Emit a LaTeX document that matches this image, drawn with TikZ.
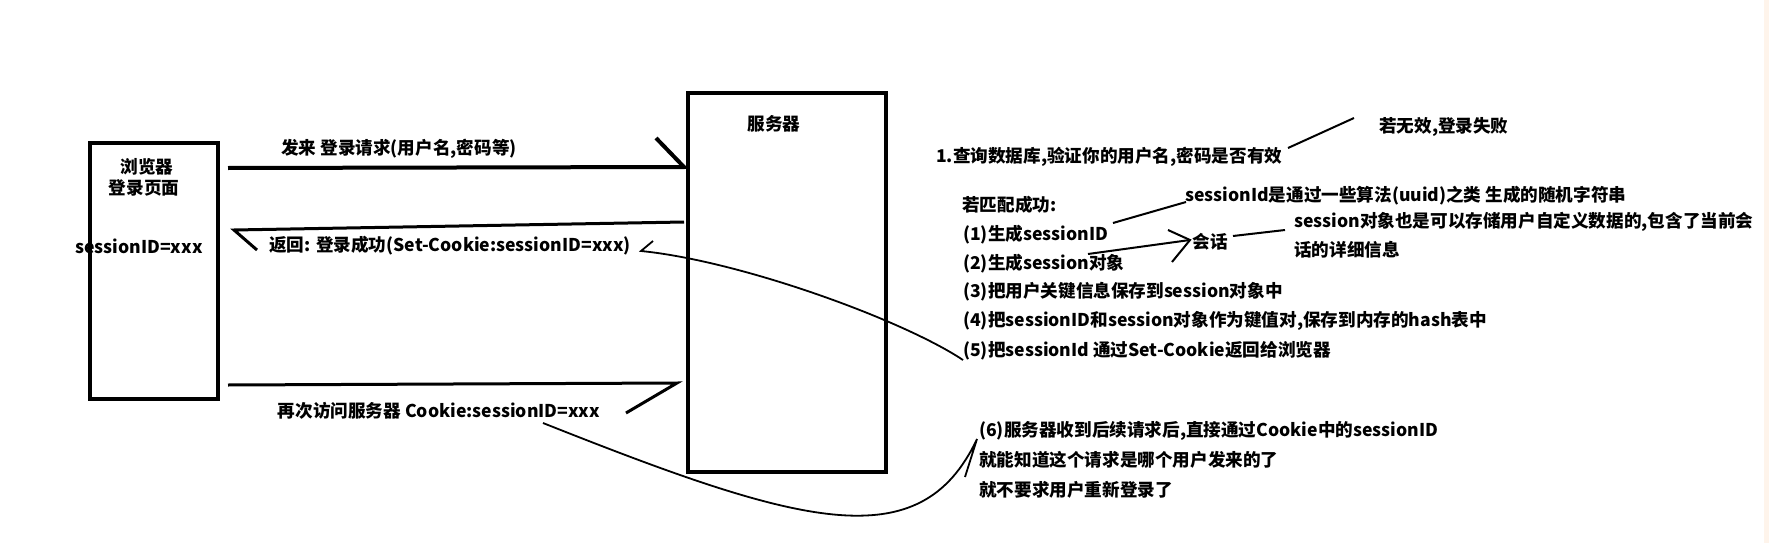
\documentclass[tikz,border=0pt]{standalone}
\usepackage{fontspec}
\setmainfont{Noto Sans CJK SC}
\begin{document}
\begin{tikzpicture}[x=1pt,y=-1pt,
  box/.style={draw,line width=4.5pt,inner sep=0pt,minimum width=#1},
  txt/.style={inner sep=0pt,font=\fontsize{17.6}{20}\selectfont\bfseries},
  ltxt/.style={txt,anchor=west},
  heavy/.style={line width=3.5pt,line join=miter},
  thin/.style={line width=2pt},
  curve/.style={line width=1.8pt}]
\useasboundingbox (0,0) rectangle (1769,543);
\fill[white] (0,0) rectangle (1769,543);
\fill[black!5!orange!8] (1764,0) rectangle (1769,543);
% boxes
\node[box=128pt,minimum height=256pt] (br) at (154,271) {};
\node[box=198pt,minimum height=379pt] (sv) at (787,282.5) {};
% texts in boxes
\node[txt] (br1) at (147,167) {浏览器};
\node[txt] (br2) at (144,188) {登录页面};
\node[txt] (sid) at (139,246) {sessionID=xxx};
\node[txt] (svt) at (774,124) {服务器};
% labels
\node[txt] (l1) at (399,149) {发来 登录请求(用户名,密码等)};
\node[txt] (l2) at (450,246) {返回: 登录成功(Set-Cookie:sessionID=xxx)};
\node[txt] (l3) at (439,411) {再次访问服务器 Cookie:sessionID=xxx};
% right side
\node[ltxt] (q1) at (936,157) {1.查询数据库,验证你的用户名,密码是否有效};
\node[ltxt] (fail) at (1379,127) {若无效,登录失败};
\node[ltxt] (match) at (962,205) {若匹配成功:};
\node[ltxt] (s1) at (963,235) {(1)生成sessionID};
\node[ltxt] (s2) at (963,264) {(2)生成session对象};
\node[ltxt] (s3) at (963,292) {(3)把用户关键信息保存到session对象中};
\node[ltxt] (s4) at (963,321) {(4)把sessionID和session对象作为键值对,保存到内存的hash表中};
\node[ltxt] (s5) at (963,351) {(5)把sessionId 通过Set-Cookie返回给浏览器};
\node[ltxt] (uuid) at (1185,196) {sessionId是通过一些算法(uuid)之类 生成的随机字符串};
\node[txt] (hh) at (1210,242) {会话};
\node[ltxt] (ob1) at (1294,222) {session对象也是可以存储用户自定义数据的,包含了当前会};
\node[ltxt] (ob2) at (1294,250) {话的详细信息};
\node[ltxt] (six1) at (979,431) {(6)服务器收到后续请求后,直接通过Cookie中的sessionID};
\node[ltxt] (six2) at (979,460) {就能知道这个请求是哪个用户发来的了};
\node[ltxt] (six3) at (979,490) {就不要求用户重新登录了};
% coordinates
\coordinate (a1s) at (228,168); \coordinate (a1e) at (684,167); \coordinate (a1h) at (656,138);
\coordinate (a2s) at (684,222); \coordinate (a2e) at (234,230); \coordinate (a2h) at (257,250);
\coordinate (a3s) at (228,385); \coordinate (a3e) at (677,383); \coordinate (a3h) at (626,413);
\coordinate (c5s) at (963,360); \coordinate (c5e) at (641,251); \coordinate (c5h) at (653,241);
\coordinate (c6s) at (543,423); \coordinate (c6e) at (977,439); \coordinate (c6h) at (965,477);
\coordinate (fs) at (1288,148); \coordinate (fe) at (1354,118);
\coordinate (us) at (1113,223); \coordinate (ue) at (1186,202);
\coordinate (hs) at (1088,254); \coordinate (he) at (1190,240);
\coordinate (hh1) at (1168,230); \coordinate (hh2) at (1172,262);
\coordinate (os) at (1233,236); \coordinate (oe) at (1285,230);
% arrows
\draw[heavy,line width=4pt] (a1s) -- (a1e) -- (a1h);
\draw[heavy,line width=3pt] (a2s) -- (a2e) -- (a2h);
\draw[heavy,line width=3pt] (a3s) -- (a3e) -- (a3h);
\draw[curve] (c5s) .. controls (903,320) and (741,261) .. (c5e) -- (c5h);
\draw[curve] (c6s) .. controls (800,525) and (920,560) .. (c6e) -- (c6h);
\draw[thin] (fs) -- (fe);
\draw[thin] (us) -- (ue);
\draw[thin] (hs) -- (he);
\draw[thin] (hh1) -- (he) -- (hh2);
\draw[thin] (os) -- (oe);
\end{tikzpicture}
\end{document}
